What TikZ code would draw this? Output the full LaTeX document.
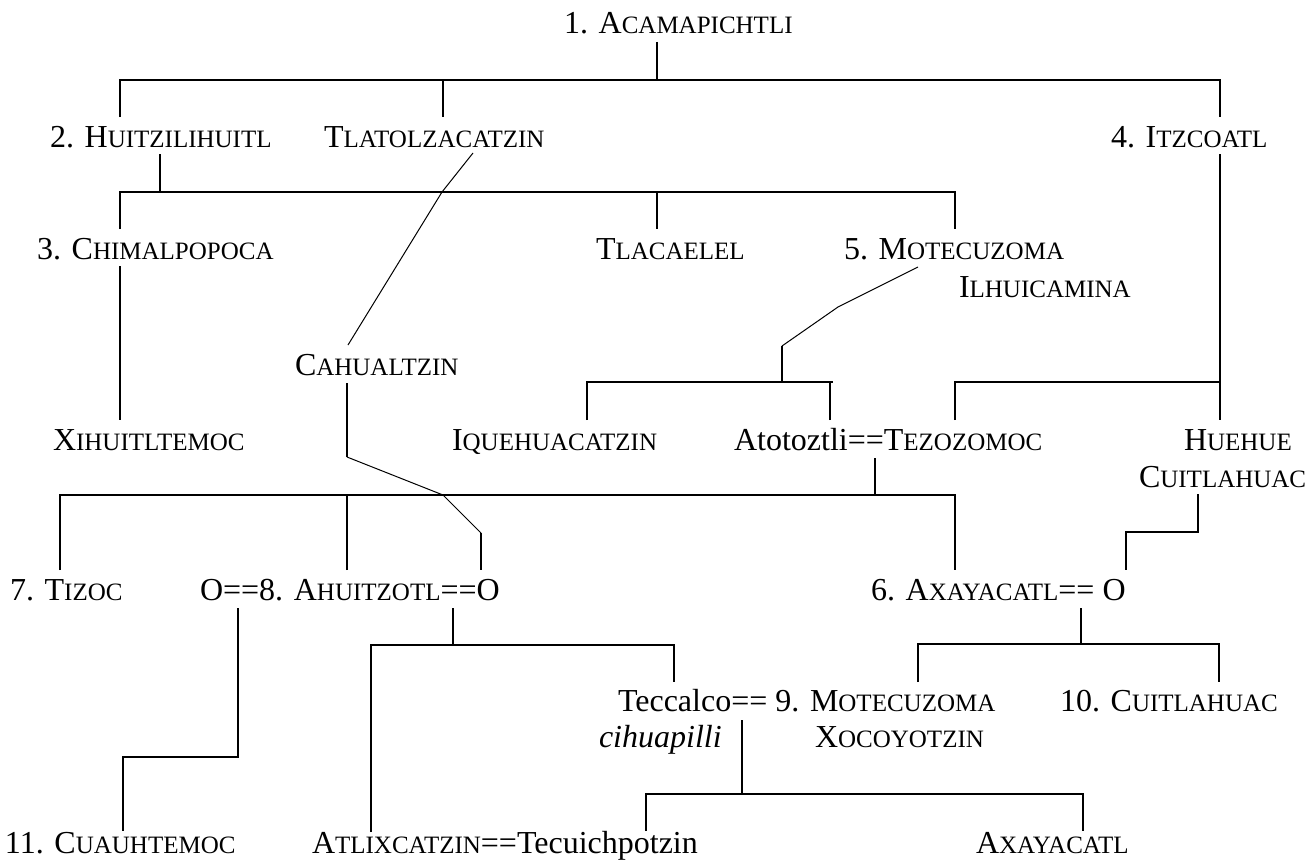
\documentclass[tikz,border=0pt]{standalone}
\usepackage{fontspec}
\setmainfont{Liberation Serif}
\newcommand{\SC}[2]{#1{\fontsize{25pt}{25pt}\selectfont #2}}
\begin{document}
\begin{tikzpicture}[x=1pt,y=-1pt,
  nm/.style={inner sep=0pt, outer sep=0pt, anchor=base west, font=\fontsize{32pt}{37pt}\selectfont},
  br/.style={line width=1.6pt, line cap=butt, line join=miter},
  sl/.style={line width=1.0pt, line join=round}]
\useasboundingbox (0,0) rectangle (1309,867);

% ---------- names ----------
\node[nm] (acam)   at (564,34)  {1. \SC{A}{CAMAPICHTLI}};
\node[nm] (huitz)  at (50,147)  {2. \SC{H}{UITZILIHUITL}};
\node[nm] (tlatol) at (324,147) {\SC{T}{LATOLZACATZIN}};
\node[nm] (itz)    at (1111,147) {4. \SC{I}{TZCOATL}};
\node[nm] (chimal) at (37,259)  {3. \SC{C}{HIMALPOPOCA}};
\node[nm] (tlaca)  at (596,259) {\SC{T}{LACAELEL}};
\node[nm] (mote)   at (844,259) {5. \SC{M}{OTECUZOMA}};
\node[nm] (ilhui)  at (959,297) {\SC{I}{LHUICAMINA}};
\node[nm] (cahu)   at (295,375) {\SC{C}{AHUALTZIN}};
\node[nm] (xihu)   at (53,450)  {\SC{X}{IHUITLTEMOC}};
\node[nm] (ique)   at (452,450) {\SC{I}{QUEHUACATZIN}};
\node[nm] (tezo)   at (734,450) {Atotoztli==\SC{T}{EZOZOMOC}};
\node[nm] (huehue) at (1184,450) {\SC{H}{UEHUE}};
\node[nm] (hcuit)  at (1139,487) {\SC{C}{UITLAHUAC}};
\node[nm] (tizoc)  at (10,600)  {7. \SC{T}{IZOC}};
\node[nm] (ahui)   at (200,600) {O==8. \SC{A}{HUITZOTL}==O};
\node[nm] (axa6)   at (871,600) {6. \SC{A}{XAYACATL}== O};
\node[nm] (tecc)   at (618,711) {Teccalco== 9. \SC{M}{OTECUZOMA}};
\node[nm] (cihua)  at (599,747) {\textit{cihuapilli}};
\node[nm] (xoco)   at (815,747) {\SC{X}{OCOYOTZIN}};
\node[nm] (cuit)   at (1060,711) {10. \SC{C}{UITLAHUAC}};
\node[nm] (cuauh)  at (5,853)   {11. \SC{C}{UAUHTEMOC}};
\node[nm] (atlix)  at (312,853) {\SC{A}{TLIXCATZIN}==Tecuichpotzin};
\node[nm] (axa)    at (976,853) {\SC{A}{XAYACATL}};

% ---------- connector points ----------
\coordinate (acamD) at (657,42);   \coordinate (j1) at (657,80);
\coordinate (huitzU) at (120,117); \coordinate (tlatolU) at (443,117); \coordinate (itzU) at (1220,117);
\coordinate (huitzD) at (160,154); \coordinate (j2) at (160,192);
\coordinate (chimalU) at (120,229); \coordinate (tlacaU) at (657,229); \coordinate (moteU) at (955,229);
\coordinate (chimalD) at (120,266); \coordinate (xihuU) at (120,420);
\coordinate (tlatolD) at (473,153); \coordinate (k1) at (442,192); \coordinate (cahuU) at (348,345);
\coordinate (cahuD) at (347,383); \coordinate (c1) at (347,457); \coordinate (c2) at (443,495);
\coordinate (c3) at (481,533); \coordinate (ahuiUR) at (481,570);
\coordinate (moteD) at (918,267); \coordinate (m2) at (838,307); \coordinate (m3) at (782,346);
\coordinate (j6) at (782,382); \coordinate (j6r) at (833,382);
\coordinate (iqueU) at (587,420); \coordinate (tezoUL) at (830,420);
\coordinate (itzD) at (1220,154); \coordinate (hueU) at (1220,420); \coordinate (j7) at (1220,382);
\coordinate (tezoUR) at (955,420);
\coordinate (tezoD) at (875,458); \coordinate (j8) at (875,495);
\coordinate (tizocU) at (60,570); \coordinate (ahuiU) at (347,570); \coordinate (axa6U) at (955,570);
\coordinate (hueD) at (1198,494); \coordinate (h1) at (1198,532); \coordinate (axa6UR) at (1126,570);
\coordinate (ahuiDL) at (238,608); \coordinate (a1) at (238,757); \coordinate (cuauhU) at (123,831);
\coordinate (ahuiDR) at (453,608); \coordinate (j11) at (453,645);
\coordinate (atlixU) at (371,832); \coordinate (teccU) at (674,682);
\coordinate (axa6D) at (1081,608); \coordinate (j12) at (1081,644);
\coordinate (moteXU) at (918,682); \coordinate (cuitU) at (1219,682);
\coordinate (moteXD) at (742,720); \coordinate (j13) at (742,794);
\coordinate (tecuU) at (646,831); \coordinate (axaU) at (1083,831);

% ---------- connectors ----------
\draw[br] (acamD) -- (j1);
\draw[br] (huitzU) |- (j1) -| (itzU);
\draw[br] (j1) -| (tlatolU);

\draw[br] (huitzD) -- (j2);
\draw[br] (chimalU) |- (j2) -| (moteU);
\draw[br] (j2) -| (tlacaU);

\draw[br] (chimalD) -- (xihuU);

\draw[sl] (tlatolD) -- (k1) -- (cahuU);

\draw[br] (cahuD) -- (c1);
\draw[sl] (c1) -- (c2) -- (c3);
\draw[br] (c3) -- (ahuiUR);

\draw[sl] (moteD) -- (m2) -- (m3);
\draw[br] (m3) -- (j6);
\draw[br] (iqueU) |- (j6r);
\draw[br] (tezoUL) -- (tezoUL |- j6);

\draw[br] (itzD) -- (hueU);
\draw[br] (tezoUR) |- (j7);

\draw[br] (tezoD) -- (j8);
\draw[br] (tizocU) |- (j8) -| (axa6U);
\draw[br] (ahuiU) -- (ahuiU |- j8);

\draw[br] (hueD) -- (h1) -| (axa6UR);

\draw[br] (ahuiDL) -- (a1) -| (cuauhU);

\draw[br] (ahuiDR) -- (j11);
\draw[br] (atlixU) |- (j11) -| (teccU);

\draw[br] (axa6D) -- (j12);
\draw[br] (moteXU) |- (j12) -| (cuitU);

\draw[br] (moteXD) -- (j13);
\draw[br] (tecuU) |- (j13) -| (axaU);
\end{tikzpicture}
\end{document}
